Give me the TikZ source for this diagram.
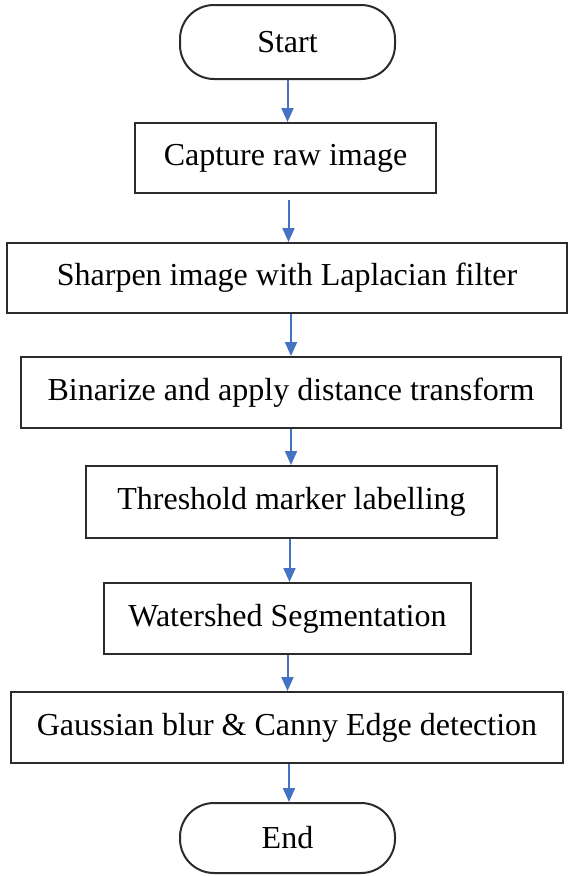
\documentclass[tikz,border=0pt]{standalone}
\usepackage{fontspec}
\setmainfont{Liberation Serif}
\usetikzlibrary{arrows.meta}
\definecolor{arrowblue}{HTML}{4472C4}
\definecolor{boxline}{HTML}{2B2B2B}
\tikzset{
  procbox/.style={draw=boxline, line width=2pt, rectangle, inner sep=0pt, font=\fontsize{32}{36}\selectfont},
  termbox/.style={procbox, rounded corners=34pt},
  flow/.style={draw=arrowblue, line width=2pt, -{Triangle[length=14pt,width=12pt]}}
}
\begin{document}
\begin{tikzpicture}[x=1pt,y=-1pt]
\useasboundingbox (0,0) rectangle (569,876);
\node[termbox, minimum width=215pt, minimum height=74pt] (start) at (287.5,42) {Start};
\node[procbox, minimum width=301pt, minimum height=70pt] (capture) at (285.5,158) {Capture raw image};
\node[procbox, minimum width=560pt, minimum height=70pt] (sharpen) at (287,278) {Sharpen image with Laplacian filter};
\node[procbox, minimum width=540pt, minimum height=71pt] (binarize) at (291,392.5) {Binarize and apply distance transform};
\node[procbox, minimum width=411pt, minimum height=72pt] (threshold) at (291.5,502) {Threshold marker labelling};
\node[procbox, minimum width=367pt, minimum height=71pt] (watershed) at (287.5,618.5) {Watershed Segmentation};
\node[procbox, minimum width=552pt, minimum height=71pt] (gaussian) at (287,727.5) {Gaussian blur \& Canny Edge detection};
\node[termbox, minimum width=215pt, minimum height=70pt] (end) at (287.5,838) {End};
\draw[flow] (start.south) -- (start.south |- capture.north);
\draw[flow, shorten <=6pt] ([xshift=3pt]capture.south) -- ([xshift=3pt]capture.south |- sharpen.north);
\draw[flow] ([xshift=4pt]sharpen.south) -- ([xshift=4pt]sharpen.south |- binarize.north);
\draw[flow] (binarize.south) -- (binarize.south |- threshold.north);
\draw[flow] ([xshift=-2pt]threshold.south) -- ([xshift=-2pt]threshold.south |- watershed.north);
\draw[flow] (watershed.south) -- (watershed.south |- gaussian.north);
\draw[flow] ([xshift=2pt]gaussian.south) -- ([xshift=2pt]gaussian.south |- end.north);
\end{tikzpicture}
\end{document}
